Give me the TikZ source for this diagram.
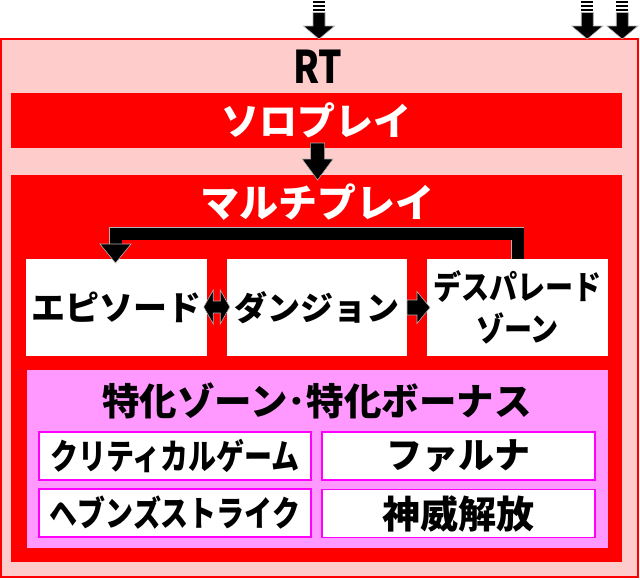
\documentclass[tikz,border=0pt]{standalone}
\usepackage{fontspec}
\newfontfamily\jp{Noto Sans CJK JP}[BoldFont=* Black]
\usetikzlibrary{calc}
\definecolor{rtpink}{HTML}{FFCCCC}
\definecolor{rtred}{HTML}{FF0000}
\definecolor{zpink}{HTML}{FF99FF}
\definecolor{zmag}{HTML}{FF00FF}
\newcommand\jfs[1]{\fontsize{#1}{#1}\selectfont}
\tikzset{
  every node/.style={inner sep=0pt, outer sep=0pt},
  outerbox/.style={fill=rtpink, draw=rtred, line width=2pt},
  redbar/.style={fill=rtred, draw=none},
  whitebox/.style={fill=white, draw=none, text=black},
  zonebox/.style={fill=zpink, draw=none},
  subbox/.style={fill=white, draw=zmag, line width=1.8pt, text=black},
  blockarrow/.style={fill=black, draw=gray!60, line width=0.6pt, line join=miter},
  whitetitle/.style={text=white},
  blacktitle/.style={text=black},
  inarrow/.pic={
    \fill[black] (-6,-38.5) rectangle (6,-36);
    \fill[black] (-6,-34.5) rectangle (6,-32);
    \fill[black] (-6,-30.5) rectangle (6,-28);
    \fill[blockarrow] (-6,-26.5) -- (6,-26.5) -- (6,-13) -- (15.5,-13) -- (0,0)
      -- (-15.5,-13) -- (-6,-13) -- cycle;
  },
}
\begin{document}
\begin{tikzpicture}[x=1pt,y=-1pt]
\useasboundingbox (0,0) rectangle (640,579);
% outer RT box
\node[outerbox, minimum width=637pt, minimum height=538pt] (rt) at (319.75,308) {};
\node[blacktitle, font=\jp\bfseries\jfs{45}] (rtlabel) at (317.5,66.5) {\scalebox{0.82}[1]{RT}};
% solo play
\node[redbar, minimum width=611pt, minimum height=55pt, whitetitle,
  font=\jp\bfseries\jfs{38}] (solo) at (316.1,120) {ソロプレイ};
% multi play
\node[redbar, minimum width=611pt, minimum height=387.5pt] (multi) at (316.1,368.25) {};
\node[whitetitle, font=\jp\bfseries\jfs{39}] (multilabel) at (317,202) {マルチプレイ};
% three stage boxes
\node[whitebox, minimum width=181pt, minimum height=97pt,
  font=\jp\bfseries\jfs{34}] (ep) at (116.5,307.5) {エピソード};
\node[whitebox, minimum width=180.5pt, minimum height=97pt,
  font=\jp\bfseries\jfs{33}] (dun) at (316.75,307.5) {ダンジョン};
\node[whitebox, minimum width=181pt, minimum height=97pt, align=center,
  font=\jp\bfseries\fontsize{33}{42}\selectfont] (desp) at (517.5,307.5)
  {\scalebox{0.85}[1]{デスパレード}\\\scalebox{0.85}[1]{ゾーン}};
% special zone box
\node[zonebox, minimum width=581.5pt, minimum height=178pt] (zone) at (317.25,459) {};
\node[blacktitle, font=\jp\bfseries\jfs{37.5}] (zonelabel) at (317,401) {特化ゾーン･特化ボーナス};
\node[subbox, minimum width=272pt, minimum height=48pt,
  font=\jp\bfseries\jfs{35}] (crit) at (175,456) {\scalebox{0.8}[1]{クリティカルゲーム}};
\node[subbox, minimum width=273pt, minimum height=48pt,
  font=\jp\bfseries\jfs{36}] (faru) at (458.5,456) {ファルナ};
\node[subbox, minimum width=272pt, minimum height=48pt,
  font=\jp\bfseries\jfs{35}] (heav) at (175,513) {\scalebox{0.8}[1]{ヘブンズストライク}};
\node[subbox, minimum width=273pt, minimum height=48pt,
  font=\jp\bfseries\jfs{38}] (kami) at (458.5,513.5) {神威解放};
% incoming arrows (free ends)
\coordinate (in1) at ($(rt.north)+(-0.75,0)$);
\coordinate (in2) at ($(rt.north east)+(-51,0)$);
\coordinate (in3) at ($(rt.north east)+(-16,0)$);
\pic at (in1) {inarrow};
\pic at (in2) {inarrow};
\pic at (in3) {inarrow};
% solo -> multi
\fill[blockarrow, shift={($(solo.south)+(1.5,0)$)}]
  (-7,-4.5) -- (7,-4.5) -- (7,11.5) -- (15.5,11.5) -- (0,32.5)
  -- (-15.5,11.5) -- (-7,11.5) -- cycle;
% episode <-> dungeon
\fill[blockarrow, shift={($(ep.east)!0.5!(dun.west)+(0,-0.5)$)}]
  (-13,0) -- (-3.5,-17) -- (-3.5,-6) -- (3.5,-6) -- (3.5,-17) -- (13,0)
  -- (3.5,17) -- (3.5,6) -- (-3.5,6) -- (-3.5,17) -- cycle;
% dungeon -> despa
\fill[blockarrow, shift={(dun.east)}]
  (0,-7.5) -- (10,-7.5) -- (10,-16) -- (23,0) -- (10,16) -- (10,7.5) -- (0,7.5) -- cycle;
% despa -> episode loop
\draw[gray!60, line width=13.4pt, line join=miter]
  (desp.north) -- ($(desp.north)+(0,-25.5)$) -| ($(ep.north)+(-1,-14)$);
\draw[black, line width=12pt, line join=miter]
  (desp.north) -- ($(desp.north)+(0,-25.5)$) -| ($(ep.north)+(-1,-14.5)$);
\fill[blockarrow] ($(ep.north)+(-16.5,-15)$) -- ($(ep.north)+(14.5,-15)$)
  -- ($(ep.north)+(-1,4)$) -- cycle;
\end{tikzpicture}
\end{document}
